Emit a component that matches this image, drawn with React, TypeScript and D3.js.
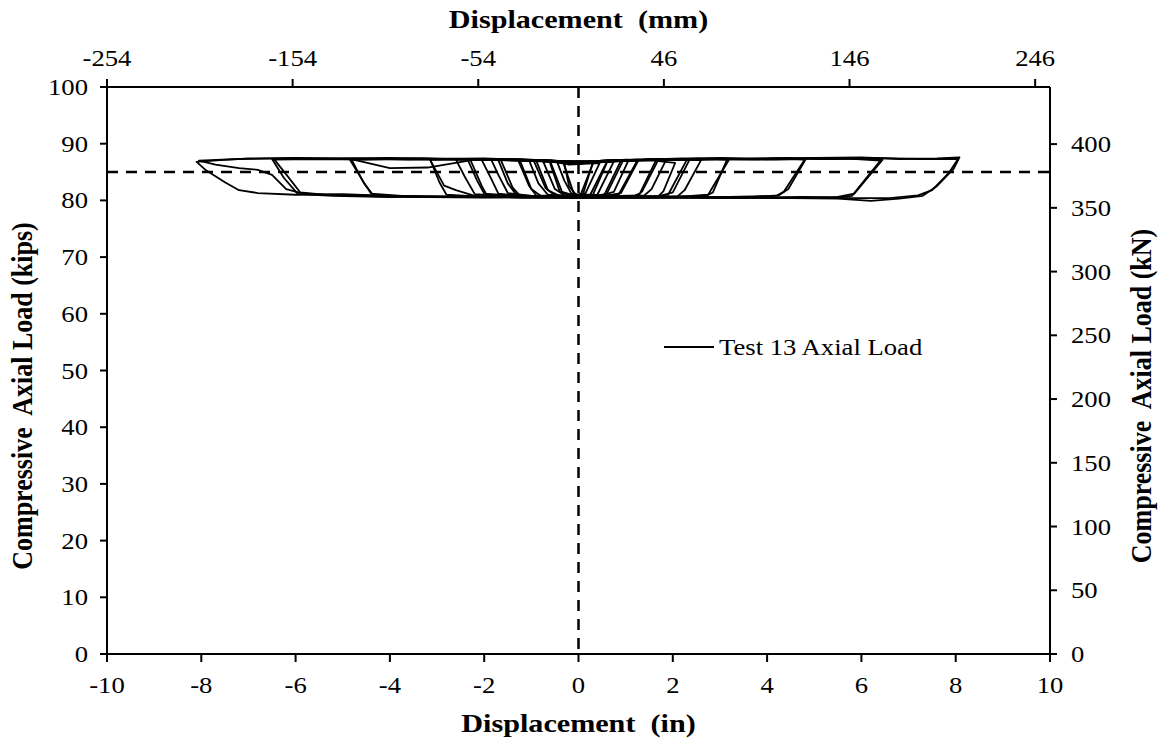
import React from "react";
import * as d3 from "d3";

const xTicksIn = [-10, -8, -6, -4, -2, 0, 2, 4, 6, 8, 10];
const yTicksKips = [0, 10, 20, 30, 40, 50, 60, 70, 80, 90, 100];
const xTicksMm = [-254, -154, -54, 46, 146, 246];
const yTicksKn = [0, 50, 100, 150, 200, 250, 300, 350, 400];
const targetLoad = 85;
const seriesName = "Test 13 Axial Load";

// Hysteresis loops: [displacement (in), axial load (kips)]
const loop1: [number, number][] = [[0, 81.0], [0.1, 81.2], [0.3, 86.6], [0.15, 86.7], [0, 86.7], [-0.15, 86.6], [-0.3, 86.5], [-0.2, 82.5], [-0.05, 81.0], [0, 80.9]];
const loop2: [number, number][] = [[0, 80.9], [0.05, 81.1], [0.32, 86.8], [0, 86.9], [-0.32, 86.6], [-0.1, 81.2], [0, 81.0]];
const loop2b: [number, number][] = [[0, 81.0], [0.15, 81.3], [0.45, 86.6], [0.2, 86.5], [0, 86.4], [-0.2, 86.3], [-0.45, 86.7], [-0.3, 83.5], [-0.15, 81.2], [0, 80.8]];
const loop3: [number, number][] = [[0, 81.0], [0.25, 81.0], [0.6, 86.8], [0.3, 86.9], [0, 86.7], [-0.3, 86.6], [-0.6, 86.9], [-0.35, 81.5], [-0.1, 80.9], [0, 80.8]];
const loop4: [number, number][] = [[0, 80.8], [0.3, 80.9], [0.62, 87.0], [0.2, 86.8], [-0.2, 86.7], [-0.62, 87.0], [-0.4, 81.6], [-0.15, 80.8], [0, 80.9]];
const loop4b: [number, number][] = [[0, 80.9], [0.4, 81.0], [0.75, 86.9], [0.4, 86.8], [0, 86.5], [-0.4, 86.8], [-0.75, 86.9], [-0.5, 82.0], [-0.3, 80.9], [0, 80.8]];
const loop5: [number, number][] = [[0, 80.9], [0.3, 80.8], [0.55, 81.0], [0.9, 87.0], [0.5, 87.0], [0, 86.6], [-0.5, 86.9], [-0.9, 87.1], [-0.65, 81.8], [-0.4, 80.8], [0, 80.7]];
const loop6: [number, number][] = [[0, 80.7], [0.35, 80.7], [0.6, 81.2], [0.95, 87.1], [0.6, 86.9], [0.1, 86.7], [-0.4, 86.8], [-0.95, 87.0], [-0.7, 82.2], [-0.5, 80.9], [0, 80.8]];
const loop6b: [number, number][] = [[0, 80.8], [0.45, 80.8], [0.75, 81.5], [1.05, 86.9], [0.7, 87.1], [0.2, 86.8], [-0.5, 86.9], [-1.05, 87.1], [-0.85, 83.0], [-0.65, 81.0], [0, 80.7]];
const loop7: [number, number][] = [[0, 80.7], [0.5, 80.8], [0.85, 81.0], [1.25, 87.1], [0.8, 87.0], [0.3, 86.8], [0, 86.6], [-0.5, 86.9], [-1.0, 87.1], [-1.25, 87.2], [-1.0, 82.0], [-0.8, 80.8], [-0.3, 80.7], [0, 80.6]];
const loop8: [number, number][] = [[0, 80.6], [0.5, 80.7], [0.9, 81.3], [1.28, 87.2], [0.9, 87.1], [0.4, 86.9], [-0.2, 86.7], [-0.8, 87.0], [-1.28, 87.1], [-1.05, 82.6], [-0.9, 80.9], [-0.4, 80.8], [0, 80.7]];
const loop9: [number, number][] = [[0, 80.6], [0.6, 80.7], [1.2, 80.9], [1.3, 81.2], [1.65, 87.2], [1.2, 87.0], [0.6, 87.1], [0, 86.6], [-0.6, 87.0], [-1.2, 87.2], [-1.65, 87.2], [-1.4, 82.3], [-1.25, 80.9], [-0.7, 80.7], [0, 80.6]];
const loop10: [number, number][] = [[0, 80.6], [0.7, 80.6], [1.25, 80.8], [1.35, 81.6], [1.7, 87.3], [1.3, 87.1], [0.7, 87.0], [0.1, 86.7], [-0.7, 87.1], [-1.3, 87.2], [-1.7, 87.1], [-1.5, 83.0], [-1.3, 80.8], [-0.6, 80.6], [0, 80.6]];
const loop10b: [number, number][] = [[0, 80.6], [0.8, 80.7], [1.4, 80.9], [1.55, 82.0], [1.85, 87.0], [1.4, 87.2], [0.8, 86.9], [0, 86.5], [-0.8, 86.9], [-1.45, 87.1], [-1.85, 87.2], [-1.7, 84.5], [-1.5, 81.3], [-0.9, 80.7], [0, 80.5]];
const loop10c: [number, number][] = [[0, 80.6], [1.0, 80.7], [1.7, 80.8], [1.8, 81.6], [2.05, 86.6], [1.6, 87.0], [0.9, 87.1], [0.1, 86.6], [-1.0, 87.0], [-1.6, 87.2], [-2.05, 87.1], [-1.85, 83.8], [-1.7, 81.2], [-1.0, 80.6], [0, 80.6]];
const loop11: [number, number][] = [[0, 80.6], [0.8, 80.7], [1.6, 80.6], [1.9, 81.0], [2.3, 87.2], [1.7, 87.3], [1.0, 87.0], [0.3, 86.9], [0, 86.6], [-0.6, 87.1], [-1.5, 87.2], [-2.3, 87.3], [-2.05, 82.5], [-1.95, 81.0], [-1.2, 80.6], [0, 80.5]];
const loop12: [number, number][] = [[0, 80.5], [0.9, 80.6], [1.7, 80.7], [2.0, 81.4], [2.35, 87.1], [1.8, 87.2], [1.1, 87.1], [0.4, 86.8], [-0.5, 86.9], [-1.4, 87.3], [-2.35, 87.2], [-2.15, 83.5], [-2.0, 81.2], [-1.1, 80.7], [0, 80.6]];
const loop12b: [number, number][] = [[0, 80.6], [1.1, 80.6], [2.1, 80.7], [2.25, 81.8], [2.6, 87.1], [2.0, 87.2], [1.2, 87.0], [0.2, 86.7], [-0.9, 87.0], [-1.9, 87.2], [-2.6, 87.2], [-2.4, 84.0], [-2.2, 81.1], [-1.3, 80.6], [0, 80.5]];
const loop13: [number, number][] = [[0, 80.5], [1.0, 80.6], [2.0, 80.7], [2.7, 80.8], [2.85, 81.4], [3.15, 87.2], [2.5, 87.4], [1.8, 87.1], [1.0, 87.2], [0.2, 86.8], [0, 86.6], [-0.8, 87.0], [-1.8, 87.3], [-2.6, 87.2], [-3.15, 87.3], [-2.95, 83.2], [-2.8, 81.0], [-2.0, 80.6], [-1.0, 80.6], [0, 80.5]];
const loop14: [number, number][] = [[0, 80.5], [1.1, 80.5], [2.1, 80.6], [2.75, 81.0], [3.2, 87.3], [2.6, 87.2], [1.7, 87.3], [0.8, 87.0], [-0.4, 86.9], [-1.5, 87.2], [-2.5, 87.3], [-3.15, 87.2], [-2.85, 82.6], [-2.6, 81.8], [-2.2, 80.8], [-1.2, 80.5], [0, 80.6]];
const loop15: [number, number][] = [[0, 80.5], [1.0, 80.6], [2.2, 80.5], [3.2, 80.6], [4.2, 80.8], [4.35, 81.5], [4.8, 87.2], [4.4, 87.4], [3.6, 87.3], [2.8, 87.4], [2.0, 87.2], [1.0, 87.1], [0, 86.6], [-1.0, 87.1], [-2.0, 87.3], [-3.0, 87.2], [-4.0, 87.3], [-4.85, 87.2], [-4.6, 83.8], [-4.4, 81.2], [-3.6, 80.7], [-2.5, 80.6], [-1.2, 80.5], [0, 80.5]];
const loop16: [number, number][] = [[0, 80.5], [1.2, 80.5], [2.4, 80.6], [3.5, 80.5], [4.25, 80.9], [4.45, 82.0], [4.82, 87.3], [4.2, 87.2], [3.2, 87.3], [2.2, 87.1], [1.2, 87.2], [0.2, 86.8], [-1.0, 87.0], [-2.2, 87.2], [-3.2, 85.8], [-4.0, 85.7], [-4.82, 87.3], [-4.55, 83.0], [-4.35, 80.9], [-3.2, 80.6], [-2.0, 80.5], [0, 80.6]];
const loop17: [number, number][] = [[0, 80.5], [1.5, 80.6], [3.0, 80.4], [4.5, 80.5], [5.5, 80.6], [5.85, 81.2], [6.45, 87.2], [6.1, 87.4], [5.2, 87.3], [4.4, 87.5], [3.4, 87.3], [2.2, 87.4], [1.0, 87.1], [0, 86.6], [-1.0, 87.2], [-2.4, 87.3], [-3.6, 87.2], [-4.8, 87.4], [-5.8, 87.3], [-6.5, 87.3], [-6.25, 84.0], [-5.95, 81.1], [-5.2, 80.8], [-4.0, 80.6], [-2.5, 80.7], [-1.0, 80.6], [0, 80.5]];
const loop18: [number, number][] = [[0, 80.6], [1.4, 80.5], [2.9, 80.6], [4.3, 80.4], [5.4, 80.5], [5.8, 80.8], [6.4, 87.0], [5.9, 87.3], [4.9, 87.4], [3.8, 87.2], [2.7, 87.3], [1.5, 87.2], [0.3, 86.8], [-0.9, 87.0], [-2.1, 87.2], [-3.3, 87.4], [-4.5, 87.2], [-5.6, 87.3], [-6.45, 87.2], [-6.2, 84.6], [-5.9, 81.4], [-5.4, 81.0], [-4.2, 80.7], [-2.8, 80.6], [-1.4, 80.6], [0, 80.6]];
const loop19: [number, number][] = [[0, 80.5], [1.5, 80.5], [3.0, 80.6], [4.5, 80.4], [5.5, 80.3], [6.2, 79.9], [6.8, 80.3], [7.3, 80.8], [7.6, 82.5], [7.95, 85.5], [8.08, 87.6], [7.6, 87.4], [6.8, 87.3], [6.0, 87.6], [5.0, 87.5], [4.0, 87.3], [3.0, 87.5], [2.0, 87.2], [1.0, 87.0], [0, 86.7], [-1.0, 87.1], [-2.0, 87.4], [-3.0, 87.3], [-4.0, 87.5], [-5.0, 87.4], [-6.0, 87.5], [-7.0, 87.4], [-7.6, 87.1], [-8.1, 86.8], [-7.9, 85.3], [-7.5, 83.2], [-7.2, 81.8], [-6.8, 81.3], [-6.0, 81.0], [-5.0, 81.1], [-4.0, 80.8], [-3.0, 80.7], [-2.0, 80.6], [-1.0, 80.6], [0, 80.6]];
const loop20: [number, number][] = [[0, 80.6], [1.6, 80.6], [3.2, 80.5], [4.8, 80.6], [5.8, 80.4], [6.6, 80.4], [7.2, 80.9], [7.5, 81.8], [7.85, 84.8], [8.05, 87.3], [7.2, 87.3], [6.2, 87.5], [5.2, 87.3], [4.2, 87.4], [3.2, 87.3], [2.2, 87.3], [1.2, 87.1], [0.2, 86.7], [-1.2, 87.0], [-2.4, 87.3], [-3.6, 87.4], [-4.8, 87.3], [-6.0, 87.4], [-7.2, 87.3], [-8.05, 87.0], [-7.7, 86.3], [-7.2, 85.7], [-6.8, 85.4], [-6.5, 84.5], [-6.2, 82.0], [-5.8, 81.1], [-4.6, 80.9], [-3.0, 80.6], [0, 80.7]];

const loops = [loop1, loop2, loop2b, loop3, loop4, loop4b, loop5, loop6, loop6b, loop7, loop8, loop9, loop10, loop10b, loop10c, loop11, loop12, loop12b, loop13, loop14, loop15, loop16, loop17, loop18, loop19, loop20];

const W = 1167;
const H = 747;
const left = 107;
const right = 1050;
const top = 87;
const bottom = 654;
const KIP_TO_KN = 4.448;
const IN_TO_MM = 25.4;
const SX = 1.16; // horizontal stretch of the glyphs in the picture

function T(props: { x: number; y: number; anchor?: string; size: number; bold?: boolean; children: React.ReactNode }) {
  const { x, y, anchor = "start", size, bold, children } = props;
  return (
    <text transform={`translate(${x},${y}) scale(${SX},1)`} textAnchor={anchor} fontSize={size} fontWeight={bold ? "bold" : "normal"} xmlSpace="preserve" style={{ whiteSpace: "pre" }}>
      {children}
    </text>
  );
}

function VT(props: { x: number; y: number; size: number; children: React.ReactNode }) {
  const { x, y, size, children } = props;
  return (
    <text transform={`translate(${x},${y}) rotate(-90) scale(1,${SX})`} textAnchor="middle" fontSize={size} fontWeight="bold" xmlSpace="preserve" style={{ whiteSpace: "pre" }}>
      {children}
    </text>
  );
}

export default function App() {
  const x = d3.scaleLinear().domain([-10, 10]).range([left, right]);
  const y = d3.scaleLinear().domain([0, 100]).range([bottom, top]);
  const line = d3
    .line<[number, number]>()
    .x((d) => x(d[0]))
    .y((d) => y(d[1]));

  const font = "'Liberation Serif', 'Times New Roman', serif";
  const tickFs = 23;
  const titleFs = 26;
  const vMid = 396;

  return (
    <svg width={W} height={H} style={{ position: "absolute", left: 0, top: 0, background: "#fff" }} fontFamily={font}>
      <rect x={0} y={0} width={W} height={H} fill="#fff" />
      <defs>
        <clipPath id="plotclip">
          <rect x={left} y={top} width={right - left} height={bottom - top} />
        </clipPath>
      </defs>

      {/* data */}
      <g clipPath="url(#plotclip)">
        {loops.map((l, i) => (
          <path key={i} d={line(l) || ""} fill="none" stroke="#000" strokeWidth={1.8} strokeLinejoin="round" />
        ))}
      </g>

      {/* reference dashed lines */}
      <line x1={left} x2={right} y1={y(targetLoad)} y2={y(targetLoad)} stroke="#000" strokeWidth={2.5} strokeDasharray="11,8" />
      <line x1={x(0)} x2={x(0)} y1={top} y2={bottom} stroke="#000" strokeWidth={2.5} strokeDasharray="11,8" />

      {/* frame */}
      <line x1={left} x2={right} y1={bottom} y2={bottom} stroke="#000" strokeWidth={2} />
      <line x1={left} x2={right} y1={top} y2={top} stroke="#000" strokeWidth={2} />
      <line x1={left} x2={left} y1={top} y2={bottom} stroke="#000" strokeWidth={2} />
      <line x1={right} x2={right} y1={top} y2={bottom} stroke="#000" strokeWidth={2} />

      {/* bottom axis */}
      {xTicksIn.map((t) => (
        <g key={"b" + t}>
          <line x1={x(t)} x2={x(t)} y1={bottom} y2={bottom + 8} stroke="#000" strokeWidth={2} />
          <T x={x(t)} y={bottom + 39} anchor="middle" size={tickFs}>{t}</T>
        </g>
      ))}
      {/* top axis */}
      {xTicksMm.map((t) => (
        <g key={"t" + t}>
          <line x1={x(t / IN_TO_MM)} x2={x(t / IN_TO_MM)} y1={top} y2={top - 8} stroke="#000" strokeWidth={2} />
          <T x={x(t / IN_TO_MM)} y={top - 21} anchor="middle" size={tickFs}>{t}</T>
        </g>
      ))}
      {/* left axis */}
      {yTicksKips.map((t) => (
        <g key={"l" + t}>
          <line x1={left - 7} x2={left} y1={y(t)} y2={y(t)} stroke="#000" strokeWidth={2} />
          <T x={left - 19} y={y(t) + 8} anchor="end" size={tickFs}>{t}</T>
        </g>
      ))}
      {/* right axis */}
      {yTicksKn.map((t) => (
        <g key={"r" + t}>
          <line x1={right} x2={right + 7} y1={y(t / KIP_TO_KN)} y2={y(t / KIP_TO_KN)} stroke="#000" strokeWidth={2} />
          <T x={right + 21} y={y(t / KIP_TO_KN) + 8} anchor="start" size={tickFs}>{t}</T>
        </g>
      ))}

      {/* titles */}
      <T x={x(0)} y={732} anchor="middle" size={titleFs} bold>{"Displacement  (in)"}</T>
      <T x={x(0)} y={28} anchor="middle" size={titleFs} bold>{"Displacement  (mm)"}</T>
      <VT x={32} y={vMid} size={titleFs}>{"Compressive  Axial Load (kips)"}</VT>
      <VT x={1151} y={vMid} size={titleFs}>{"Compressive  Axial Load (kN)"}</VT>

      {/* legend */}
      <line x1={664} x2={714} y1={347} y2={347} stroke="#000" strokeWidth={1.8} />
      <T x={719} y={355} size={tickFs}>{seriesName}</T>
    </svg>
  );
}
